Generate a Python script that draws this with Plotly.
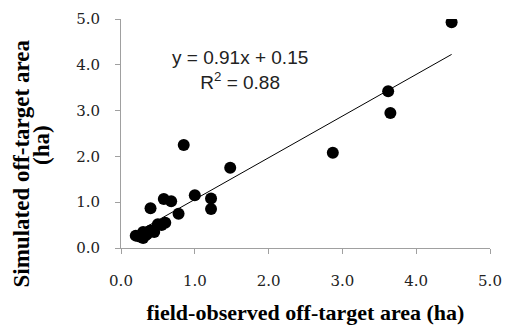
import plotly.graph_objects as go

observed = [4.48, 3.62, 3.65, 2.87, 1.48, 0.85, 1.00, 1.22, 1.22, 0.78, 0.68, 0.58,
            0.40, 0.60, 0.55, 0.50, 0.45, 0.40, 0.35, 0.30, 0.25, 0.20, 0.30, 0.33]
simulated = [4.93, 3.42, 2.95, 2.08, 1.75, 2.25, 1.15, 1.08, 0.85, 0.75, 1.02, 1.07,
             0.87, 0.55, 0.50, 0.52, 0.35, 0.38, 0.30, 0.22, 0.25, 0.27, 0.35, 0.28]
slope = 0.91
intercept = 0.15
tick_vals = [0, 1, 2, 3, 4, 5]
tick_text = ["0.0", "1.0", "2.0", "3.0", "4.0", "5.0"]

x_line = [min(observed), max(observed)]
y_line = [slope * v + intercept for v in x_line]

fig = go.Figure()
fig.add_trace(go.Scatter(x=x_line, y=y_line, mode="lines",
                         line=dict(color="black", width=1), showlegend=False))
fig.add_trace(go.Scatter(x=observed, y=simulated, mode="markers",
                         marker=dict(color="black", size=12), showlegend=False))

axis_common = dict(range=[0, 5], tickvals=tick_vals, ticktext=tick_text,
                   showgrid=False, zeroline=False, showline=True, linecolor="#a0a0a0",
                   linewidth=1, ticks="outside", tickcolor="#a0a0a0", ticklen=5,
                   automargin=False,
                   tickfont=dict(family="DejaVu Serif", size=15, color="#222"))

fig.update_xaxes(**axis_common, ticklabelstandoff=14,
                 title=dict(text="<b>field-observed off-target area (ha)</b>",
                            font=dict(family="Liberation Serif", size=22, color="black"),
                            standoff=15))
fig.update_yaxes(**axis_common, ticklabelstandoff=12)

title_font = dict(family="Liberation Serif", size=23, color="black")
fig.add_annotation(xref="paper", yref="paper", x=-0.271, y=0.369, xanchor="center", yanchor="middle",
                   textangle=-90, showarrow=False,
                   text="<b>Simulated off-target area</b>", font=title_font)
fig.add_annotation(xref="paper", yref="paper", x=-0.214, y=0.450, xanchor="center", yanchor="middle",
                   textangle=-90, showarrow=False,
                   text="<b>(ha)</b>", font=title_font)
fig.add_annotation(x=1.61, y=3.89, showarrow=False,
                   text="y = 0.91x + 0.15<br>R<sup>2</sup> = 0.88",
                   font=dict(family="Liberation Sans", size=19, color="#222"))

fig.update_layout(width=505, height=328, margin=dict(l=121, r=15, t=19, b=80),
                  plot_bgcolor="white", paper_bgcolor="white")

fig.write_html("out.html", config={"displayModeBar": False},
               post_script="document.body.style.margin='0px';")
